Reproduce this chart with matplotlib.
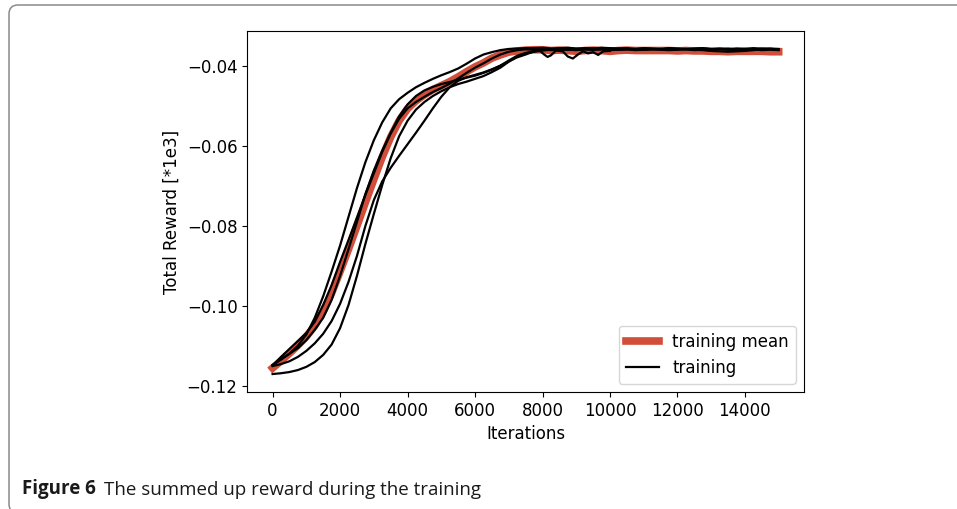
import matplotlib
matplotlib.use("Agg")
import matplotlib.pyplot as plt
from matplotlib.patches import FancyBboxPatch
from matplotlib.transforms import IdentityTransform

plt.rcParams['font.family'] = ['DejaVu Sans']

# iterations: rise every 250 up to 7500, plateau every 250 after that
it_rise = list(range(0, 7501, 250))
it_tail = list(range(7750, 15001, 250))

mean_rise = [-0.1156, -0.1138, -0.1119, -0.1099, -0.1077, -0.1050, -0.1014, -0.0968,
             -0.0914, -0.0858, -0.0800, -0.0741, -0.0683, -0.0627, -0.0577, -0.0536,
             -0.0506, -0.0486, -0.0471, -0.0458, -0.0448, -0.0438, -0.0426, -0.0413,
             -0.0401, -0.0391, -0.0379, -0.0371, -0.0364, -0.0361, -0.0359]
mean_tail = [-0.0358, -0.0358, -0.0360, -0.0359, -0.0360, -0.0362, -0.0360, -0.0359,
             -0.0360, -0.0362, -0.0360, -0.0359, -0.0360, -0.0360, -0.0360, -0.0360,
             -0.0360, -0.0361, -0.0360, -0.0361, -0.0361, -0.0362, -0.0362, -0.0363,
             -0.0362, -0.0362, -0.0362, -0.0362, -0.0363, -0.0363]

run1_rise = [-0.1148, -0.1135, -0.1120, -0.1100, -0.1072, -0.1030, -0.0976, -0.0914,
             -0.0849, -0.0777, -0.0705, -0.0640, -0.0585, -0.0540, -0.0505, -0.0482,
             -0.0466, -0.0452, -0.0441, -0.0431, -0.0422, -0.0414, -0.0405, -0.0393,
             -0.0380, -0.0370, -0.0364, -0.0359, -0.0356, -0.0355, -0.0354]
run1_tail = [-0.0354, -0.0353, -0.0355, -0.0354, -0.0353, -0.0355, -0.0354, -0.0355,
             -0.0353, -0.0354, -0.0355, -0.0354, -0.0356, -0.0354, -0.0355, -0.0356,
             -0.0354, -0.0355, -0.0356, -0.0355, -0.0354, -0.0356, -0.0355, -0.0357,
             -0.0355, -0.0356, -0.0354, -0.0356, -0.0355, -0.0356]

run2_rise = [-0.1171, -0.1169, -0.1166, -0.1161, -0.1153, -0.1141, -0.1123, -0.1097,
             -0.1056, -0.0998, -0.0925, -0.0845, -0.0770, -0.0697, -0.0630, -0.0575,
             -0.0536, -0.0508, -0.0489, -0.0474, -0.0462, -0.0452, -0.0444, -0.0438,
             -0.0431, -0.0424, -0.0414, -0.0403, -0.0388, -0.0375, -0.0367]
run2_tail = [-0.0363, -0.0360, -0.0358, -0.0357, -0.0358, -0.0356, -0.0357, -0.0358,
             -0.0356, -0.0357, -0.0358, -0.0357, -0.0356, -0.0358, -0.0357, -0.0356,
             -0.0358, -0.0357, -0.0356, -0.0358, -0.0359, -0.0361, -0.0362, -0.0363,
             -0.0362, -0.0361, -0.0359, -0.0357, -0.0356, -0.0357]

run4_rise = [-0.1149, -0.1133, -0.1120, -0.1106, -0.1086, -0.1060, -0.1030, -0.0985,
             -0.0925, -0.0858, -0.0790, -0.0720, -0.0661, -0.0611, -0.0566, -0.0525,
             -0.0495, -0.0474, -0.0460, -0.0451, -0.0444, -0.0439, -0.0433, -0.0428,
             -0.0423, -0.0416, -0.0408, -0.0398, -0.0387, -0.0377, -0.0370]
run4_tail = [-0.0362, -0.0358, -0.0356, -0.0357, -0.0355, -0.0357, -0.0356, -0.0355,
             -0.0357, -0.0356, -0.0355, -0.0356, -0.0357, -0.0355, -0.0356, -0.0357,
             -0.0355, -0.0356, -0.0357, -0.0356, -0.0355, -0.0357, -0.0356, -0.0355,
             -0.0357, -0.0356, -0.0357, -0.0355, -0.0356, -0.0357]

run5_rise = [-0.1150, -0.1128, -0.1108, -0.1088, -0.1068, -0.1040, -0.0998, -0.0948,
             -0.0890, -0.0835, -0.0779, -0.0722, -0.0668, -0.0614, -0.0568, -0.0531,
             -0.0505, -0.0489, -0.0476, -0.0464, -0.0454, -0.0443, -0.0430, -0.0416,
             -0.0403, -0.0392, -0.0380, -0.0370, -0.0363, -0.0359, -0.0357]
run5_tail = [-0.0358, -0.0357, -0.0359, -0.0357, -0.0358, -0.0359, -0.0357, -0.0358,
             -0.0357, -0.0359, -0.0358, -0.0357, -0.0359, -0.0358, -0.0357, -0.0358,
             -0.0359, -0.0358, -0.0357, -0.0359, -0.0358, -0.0359, -0.0357, -0.0358,
             -0.0359, -0.0358, -0.0357, -0.0359, -0.0358, -0.0359]

# the run that crosses the others and stops at 10000 iterations
run3_rise = [-0.1151, -0.1146, -0.1139, -0.1128, -0.1113, -0.1094, -0.1070, -0.1038,
             -0.0995, -0.0940, -0.0875, -0.0800, -0.0735, -0.0688, -0.0654, -0.0624,
             -0.0595, -0.0566, -0.0536, -0.0505, -0.0476, -0.0452, -0.0436, -0.0427,
             -0.0421, -0.0415, -0.0407, -0.0398, -0.0385, -0.0373, -0.0366]
run3_tail_it = [7750, 7900, 8050, 8150, 8250, 8400, 8600, 8750, 8900, 9050, 9200,
                9350, 9500, 9650, 9800, 10000]
run3_tail = [-0.0362, -0.0359, -0.0370, -0.0376, -0.0372, -0.0360, -0.0362, -0.0375,
             -0.0380, -0.0370, -0.0362, -0.0367, -0.0364, -0.0371, -0.0362, -0.0361]

fig = plt.figure(figsize=(9.57, 5.09), dpi=100)
ax = fig.add_axes([0.2584, 0.2299, 0.5817, 0.7092])

red = '#d14f3a'
ax.plot(it_rise + it_tail, mean_rise + mean_tail, color=red, linewidth=5.5,
        solid_joinstyle='round', label='training mean')
runs = [(it_rise + it_tail, run1_rise + run1_tail),
        (it_rise + it_tail, run2_rise + run2_tail),
        (it_rise + run3_tail_it, run3_rise + run3_tail),
        (it_rise + it_tail, run4_rise + run4_tail),
        (it_rise + it_tail, run5_rise + run5_tail)]
for i, (xs, ys) in enumerate(runs):
    ax.plot(xs, ys, color='black', linewidth=1.6, solid_joinstyle='round',
            label='training' if i == 0 else None)

ax.set_xlim(-750, 15750)
ax.set_ylim(-0.1216, -0.0311)
ax.set_xticks(range(0, 14001, 2000))
ax.set_yticks([-0.12, -0.10, -0.08, -0.06, -0.04])
ax.set_yticklabels(['\u22120.12', '\u22120.10', '\u22120.08', '\u22120.06', '\u22120.04'])
ax.tick_params(labelsize=12)
ax.set_xlabel('Iterations', fontsize=12)
ax.set_ylabel('Total Reward [*1e3]', fontsize=12)
ax.legend(loc='lower right', fontsize=12)

# frame and caption of the page
frame = FancyBboxPatch((9, -4), 966, 508, boxstyle='round,pad=0,rounding_size=9',
                       transform=IdentityTransform(), facecolor='none',
                       edgecolor='#8a8a8a', linewidth=1.1)
fig.patches.append(frame)
t1 = fig.text(22 / 957, 1 - 494 / 509, 'Figure 6', fontsize=13.5, fontweight='bold',
              family='Open Sans', color='#1a1a1a', va='baseline')
ax.annotate('The summed up reward during the training', xy=(1, 0), xycoords=t1,
            xytext=(6, 0), textcoords='offset points', fontsize=13.5,
            family='Open Sans', color='#1a1a1a', va='bottom', annotation_clip=False)

fig.savefig('out.png', dpi=100)
